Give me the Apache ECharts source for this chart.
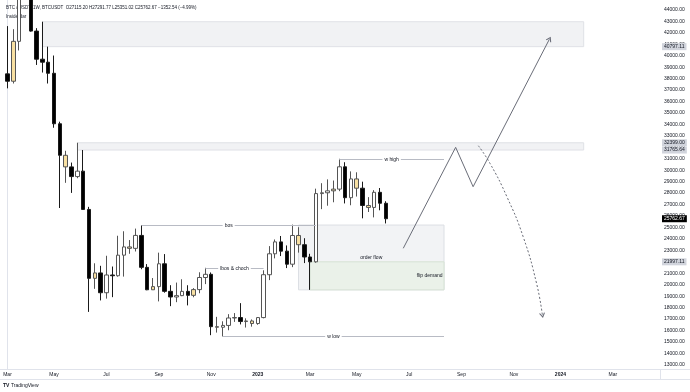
<!DOCTYPE html>
<html><head><meta charset="utf-8">
<script src="https://cdn.jsdelivr.net/npm/echarts@6/dist/echarts.min.js"></script>
<style>html,body{margin:0;padding:0;background:#fff}#c{width:690px;height:392px}</style>
</head><body><div id="c"></div>
<script>
// Weekly BTC/USDT candles, week 0 = 7 Mar 2022
const opens  = [38420,37777,41262,46827,46407,42158,39700,39440,38470,34059,
                31305,30293,29445,29920,26574,20553,21027,19297,20847,20781,
                22579,23300,23175,24305,21515,19555,19831,21826,19419,18925,
                19044,19416,19069,19570,20627,20905,16332,16280,16440,17090,
                17128,16780,16832,16607,17127,20871,22700,23740,22930,21790,
                24300,23492,22420,21997.11,27960,28030,28200,28350,30300,27600,
                29240,28430,26920,26750,28070,27115.20];
const closes = [37777,41262,46827,46407,42158,39700,39440,38470,34059,31305,
                30293,29445,29920,26574,20553,21027,19297,20847,20781,22579,
                23300,23175,24305,21515,19555,19831,21826,19419,18925,19044,
                19416,19069,19570,20627,20905,16332,16280,16440,17090,17128,
                16780,16832,16607,17127,20871,22700,23740,22930,21790,24300,
                23492,22420,21997.11,27960,28030,28200,28350,30300,27600,29240,
                28430,26920,26750,28070,27115.20,25762.67];
const lows   = [37155,37578,40467,45200,42107,39200,38536,37578,33713,26700,
                28900,28019,29300,26560,17622,19637,18626,18781,18910,20700,
                20706,22700,22900,21350,19520,19550,18540,19300,18125,18471,
                19000,18190,18900,19250,20050,15588,15815,15476,16020,16750,
                16530,16256,16333,16500,17060,20400,22300,22500,21451,21532,
                22800,21887,19549,21918,26600,26900,27200,28170,27100,26940,
                27700,25800,26350,25880,26500,25351.02];
const highs  = [42594,42325,48189,48240,47200,42414,42976,40797.11,40023,34243,
                31700,30670,32399,31765.64,26800,21870,21650,22527,21587,24276,
                24668,23900,24900,25211,21800,20580,22799,22673,19956,20185,
                20475,19951,19700,21085,21473,21070,17190,16800,17424,17520,
                18387,17061,16963,17176,21258,23371,23950,24255,23430,25250,
                25020,24060,22700,28390,28868,29200,29100,31000,30700,29900,
                29820,29000,27650,28260,28447,27291.77];
const insideBars = [1,10,15,21,25,32,36,42,50,56,60,62];

const priceTicks = [13000,14000,15000,16000,17000,18000,19000,20000,21000,22000,
                    23000,24000,25000,26000,27000,28000,29000,30000,31000,32000,
                    33000,34000,35000,36000,37000,38000,39000,40000,41000,42000,
                    43000,44000];
const monthTickWeeks  = [0,8,17,26,35,43,52,60,69,78,87,95,104];
const monthTickLabels = ['Mar','May','Jul','Sep','Nov','2023','Mar','May','Jul','Sep','Nov','2024','Mar'];

const axisMarkPrices = [40797.11, 32399.00, 31765.64, 21997.11];
const lastPrice = 25762.67;

// horizontal levels
const levelNames  = ['bos','lbos & choch','w high','w low'];
const levelFrom   = [23, 34, 57, 37];
const levelTo     = [53, 44, 75, 75];
const levelPrices = [25211, 21473, 31000, 15476];

// zones
const zoneNames = ['', '', 'order flow', 'flip demand'];
const zoneFrom  = [6, 12, 50, 52];
const zoneTo    = [99, 99, 75, 75];
const zoneLow   = [40797.11, 31765.64, 19549, 19549];
const zoneHigh  = [42976, 32399, 25211, 21997.11];

// projected paths
const bullWeeks  = [68.0, 77.0, 80.0, 93.1];
const bullPrices = [23180, 32000, 28560, 41440];
const bearWeeks  = [80.9, 82.9, 85.8, 88.6, 90.9, 91.9];
const bearPrices = [32140, 30600, 27690, 24190, 20120, 17350];

const FONT = 'Liberation Sans';
const TXT = '#131722';
const YELLOW = '#f8e0a2';
const FRAME = '#e0e3eb';

const candleData = opens.map((o, i) => {
  const item = {value: [i, o, closes[i], lows[i], highs[i]]};
  if (insideBars.includes(i)) item.itemStyle = {color: YELLOW, color0: YELLOW, borderColor: '#555', borderColor0: '#555'};
  return item;
});

const chevron = 'path://M0,10L5,0L10,10';
const bullData = bullWeeks.map((w, i) => {
  const d = {value: [w, bullPrices[i]]};
  if (i === bullWeeks.length - 1) { d.symbol = chevron; d.symbolSize = [5, 4]; d.symbolRotate = -27; }
  return d;
});
const bearData = bearWeeks.map((w, i) => {
  const d = {value: [w, bearPrices[i]]};
  if (i === bearWeeks.length - 1) { d.symbol = chevron; d.symbolSize = [5, 4]; d.symbolRotate = -169; }
  return d;
});

const zoneStyles = [
  {color: '#f1f2f4', borderColor: '#dfe1e6', borderWidth: 1},
  {color: '#f1f2f4', borderColor: '#dfe1e6', borderWidth: 1},
  {color: '#f2f3f5', borderColor: '#dcdfe4', borderWidth: 1},
  {color: '#eaf1e9', borderColor: '#d6e2d4', borderWidth: 1}
];
const zoneLabelPos = ['inside', 'inside', 'inside', 'insideRight'];
const markAreaData = zoneFrom.map((f, i) => [
  {coord: [f, zoneHigh[i]], itemStyle: zoneStyles[i],
   label: {show: zoneNames[i] !== '', formatter: zoneNames[i], position: zoneLabelPos[i], distance: 2,
           fontSize: 5, color: TXT, fontFamily: FONT}},
  {coord: [zoneTo[i], zoneLow[i]]}
]);

const levelData = levelNames.map((n, i) => [
  {coord: [levelFrom[i], levelPrices[i]], label: {formatter: n}},
  {coord: [levelTo[i], levelPrices[i]]}
]);

const axisMarkLabel = (bg, fg) => ({show: true, position: 'end', distance: 2, padding: [1, 2],
  fontSize: 5, fontFamily: FONT, backgroundColor: bg, color: fg});
const priceMarks = axisMarkPrices.map(v => ({yAxis: v,
  label: Object.assign(axisMarkLabel('#d1d4dc', TXT), {formatter: v.toFixed(2)})}));
priceMarks.push({yAxis: lastPrice,
  label: Object.assign(axisMarkLabel('#000000', '#ffffff'), {formatter: lastPrice.toFixed(2)})});

const chart = echarts.init(document.getElementById('c'), null, {renderer: 'canvas'});
chart.setOption({
  animation: false,
  backgroundColor: '#ffffff',
  title: [
    {text: 'BTC / USDT, 1W, BTCUSDT  O27115.20 H27291.77 L25351.02 C25762.67 \u22121352.54 (\u22124.99%)',
     left: 6, top: 5, padding: 0, z: 1,
     textStyle: {fontSize: 4.5, fontWeight: 'normal', color: TXT, fontFamily: FONT}},
    {text: 'Inside Bar', left: 6, top: 14, padding: 0, z: 1,
     textStyle: {fontSize: 4.5, fontWeight: 'normal', color: TXT, fontFamily: FONT}},
    {text: 'TV', left: 3, top: 383, padding: 0,
     textStyle: {fontSize: 5, fontWeight: 'bold', color: TXT, fontFamily: FONT}},
    {text: 'TradingView', left: 11, top: 383, padding: 0,
     textStyle: {fontSize: 5, fontWeight: 'normal', color: TXT, fontFamily: FONT}}
  ],
  grid: {left: 0, right: 30, top: 0, bottom: 23, containLabel: false},
  xAxis: {
    type: 'value', min: -1.289, max: 112.11,
    splitLine: {show: false},
    axisTick: {show: false},
    axisLine: {show: true, lineStyle: {color: FRAME, width: 1}},
    axisLabel: {
      customValues: monthTickWeeks, margin: 3, fontSize: 5, color: TXT, fontFamily: FONT,
      formatter: v => {
        const k = monthTickWeeks.indexOf(v);
        const s = k >= 0 ? monthTickLabels[k] : '';
        return /^\d{4}$/.test(s) ? '{y|' + s + '}' : s;
      },
      rich: {y: {fontSize: 5, fontWeight: 'bold', color: TXT, fontFamily: FONT}}
    }
  },
  yAxis: {
    type: 'value', position: 'right', min: 12633, max: 44874, scale: true,
    splitLine: {show: false},
    axisTick: {show: false},
    axisLine: {show: true, lineStyle: {color: FRAME, width: 1}},
    axisLabel: {customValues: priceTicks, margin: 4, fontSize: 5, color: TXT, fontFamily: FONT,
                formatter: v => v.toFixed(2)}
  },
  graphic: [
    {type: 'line', silent: true, shape: {x1: 0, y1: 379.5, x2: 690, y2: 379.5}, style: {stroke: FRAME, lineWidth: 1}},
    {type: 'line', silent: true, shape: {x1: 660, y1: 369.5, x2: 690, y2: 369.5}, style: {stroke: FRAME, lineWidth: 1}},
    {type: 'line', silent: true, shape: {x1: 660.5, y1: 369, x2: 660.5, y2: 379}, style: {stroke: FRAME, lineWidth: 1}}
  ],
  series: [
    {
      type: 'line', name: 'bear', z: 1, data: bearData, smooth: true, symbol: 'none',
      lineStyle: {color: '#6a6d78', width: 1, type: [2, 2]},
      itemStyle: {color: 'rgba(0,0,0,0)', borderColor: '#6a6d78', borderWidth: 1},
      markArea: {silent: true, data: markAreaData}
    },
    {
      type: 'candlestick', name: 'BTCUSDT', z: 3, clip: true, barWidth: 4,
      data: candleData,
      itemStyle: {color: '#ffffff', color0: '#000000', borderColor: '#555555', borderColor0: '#1a1a1a', borderWidth: 1},
      markLine: {
        silent: true, symbol: 'none', animation: false,
        data: levelData,
        lineStyle: {color: '#b8bbc4', width: 1, type: 'solid'},
        label: {show: true, position: 'middle', distance: [0, -3], fontSize: 5, color: TXT, fontFamily: FONT,
                backgroundColor: '#ffffff', padding: [0, 2]}
      }
    },
    {
      type: 'line', name: 'bull', z: 4, data: bullData, symbol: 'none', clip: false,
      lineStyle: {color: '#6a6d78', width: 1},
      itemStyle: {color: 'rgba(0,0,0,0)', borderColor: '#6a6d78', borderWidth: 1},
      markLine: {
        silent: true, symbol: 'none', animation: false,
        lineStyle: {color: 'rgba(0,0,0,0)', width: 1, opacity: 1},
        data: priceMarks
      }
    }
  ]
});
</script></body></html>
